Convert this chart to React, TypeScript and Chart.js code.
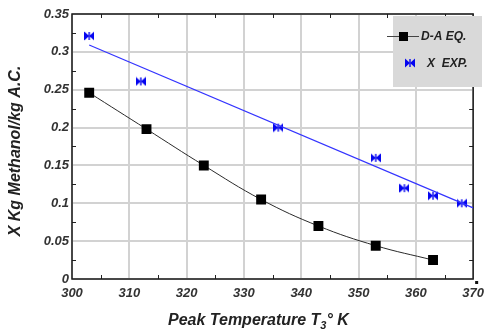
import React, { useEffect, useRef } from "react";
import { Chart, registerables } from "chart.js";

Chart.register(...registerables);

const daTemps = [303, 313, 323, 333, 343, 353, 363];
const daValues = [0.246, 0.198, 0.15, 0.105, 0.07, 0.044, 0.025];
const expTemps = [303, 312, 336, 353, 358, 363, 368];
const expValues = [0.321, 0.261, 0.2, 0.16, 0.12, 0.11, 0.1];
const fitTemps = [303, 370];
const fitValues = [0.309, 0.094];
const legendLabels = ["D-A EQ.", "X  EXP."];
const xTitle = ["Peak Temperature T", "3", "\u00B0 K"];
const yTitle = "X Kg Methanol/kg A.C.";

const FONT = "Arial, 'Liberation Sans', sans-serif";

function makeBowtie(color: string): HTMLCanvasElement {
  const c = document.createElement("canvas");
  c.width = 10;
  c.height = 10;
  const g = c.getContext("2d")!;
  g.fillStyle = color;
  g.beginPath();
  g.moveTo(0, 0.5);
  g.lineTo(5, 5);
  g.lineTo(0, 9.5);
  g.closePath();
  g.fill();
  g.beginPath();
  g.moveTo(10, 0.5);
  g.lineTo(5, 5);
  g.lineTo(10, 9.5);
  g.closePath();
  g.fill();
  g.fillRect(4.3, 1, 1.4, 8);
  return c;
}

export default function App() {
  const ref = useRef<HTMLCanvasElement | null>(null);

  useEffect(() => {
    document.body.style.margin = "0";
    const bow = makeBowtie("#0505f0");

    const decor = {
      id: "decor",
      beforeDatasetsDraw(chart: any) {
        const { ctx, chartArea: a } = chart;
        const xs = chart.scales.x;
        const ys = chart.scales.y;
        ctx.save();
        ctx.strokeStyle = "#222";
        ctx.lineWidth = 1;
        for (let v = 305; v < 370; v += 10) {
          const px = Math.round(xs.getPixelForValue(v)) + 0.5;
          ctx.beginPath();
          ctx.moveTo(px, a.bottom);
          ctx.lineTo(px, a.bottom - 4);
          ctx.moveTo(px, a.top);
          ctx.lineTo(px, a.top + 4);
          ctx.stroke();
        }
        for (let i = 0; i < 7; i++) {
          const v = 0.025 + i * 0.05;
          const py = Math.round(ys.getPixelForValue(v)) + 0.5;
          ctx.beginPath();
          ctx.moveTo(a.left, py);
          ctx.lineTo(a.left + 4, py);
          ctx.moveTo(a.right, py);
          ctx.lineTo(a.right - 4, py);
          ctx.stroke();
        }
        ctx.lineWidth = 1.5;
        ctx.strokeStyle = "#1a1a1a";
        ctx.strokeRect(a.left, a.top, a.right - a.left, a.bottom - a.top);
        ctx.fillStyle = "#111";
        ctx.fillRect(a.right + 2, a.bottom + 2, 3, 3);
        ctx.restore();
      },
      afterDraw(chart: any) {
        const { ctx } = chart;
        ctx.save();
        // legend
        ctx.fillStyle = "#d9d9d9";
        ctx.fillRect(393, 16, 89, 71);
        ctx.strokeStyle = "#444";
        ctx.lineWidth = 1;
        ctx.beginPath();
        ctx.moveTo(387, 36.5);
        ctx.lineTo(419, 36.5);
        ctx.stroke();
        ctx.fillStyle = "#000";
        ctx.fillRect(399, 32, 9, 9);
        ctx.drawImage(bow, 405, 58);
        ctx.fillStyle = "#222";
        ctx.font = `italic bold 12px ${FONT}`;
        ctx.textBaseline = "middle";
        ctx.textAlign = "left";
        ctx.fillText(legendLabels[0], 421, 37);
        ctx.fillText(legendLabels[1], 427, 63.5);
        // x title
        ctx.fillStyle = "#222";
        ctx.font = `italic bold 16px ${FONT}`;
        const w1 = ctx.measureText(xTitle[0]).width;
        ctx.font = `italic bold 11px ${FONT}`;
        const w2 = ctx.measureText(xTitle[1]).width;
        const sx = 168;
        const ty = 321;
        ctx.font = `italic bold 16px ${FONT}`;
        ctx.fillText(xTitle[0], sx, ty);
        ctx.font = `italic bold 11px ${FONT}`;
        ctx.fillText(xTitle[1], sx + w1, ty + 5);
        ctx.font = `italic bold 16px ${FONT}`;
        ctx.fillText(xTitle[2], sx + w1 + w2, ty);
        // y title
        ctx.translate(16, 151);
        ctx.rotate(-Math.PI / 2);
        ctx.textAlign = "center";
        ctx.fillText(yTitle, 0, 0);
        ctx.restore();
      },
    };

    const chart = new Chart(ref.current!, {
      type: "scatter",
      data: {
        datasets: [
          {
            label: "fit",
            data: fitTemps.map((x, i) => ({ x, y: fitValues[i] })),
            showLine: true,
            borderColor: "#3434ff",
            borderWidth: 1.2,
            pointRadius: 0,
            pointHoverRadius: 0,
          },
          {
            label: legendLabels[1],
            data: expTemps.map((x, i) => ({ x, y: expValues[i] })),
            showLine: false,
            pointStyle: bow as any,
            pointRadius: 5,
            backgroundColor: "#0505f0",
            borderColor: "#0505f0",
          },
          {
            label: legendLabels[0],
            data: daTemps.map((x, i) => ({ x, y: daValues[i] })),
            showLine: true,
            tension: 0.4,
            borderColor: "#2a2a2a",
            borderWidth: 1,
            pointStyle: "rect",
            pointRadius: 7,
            pointBorderWidth: 0,
            pointBackgroundColor: "#000",
            backgroundColor: "#000",
          },
        ],
      },
      options: {
        animation: false,
        responsive: true,
        maintainAspectRatio: false,
        layout: { padding: { top: 14, right: 11, left: 0, bottom: 0 } },
        plugins: {
          legend: { display: false },
          tooltip: { enabled: false },
        },
        scales: {
          x: {
            type: "linear",
            min: 300,
            max: 370,
            ticks: {
              stepSize: 10,
              color: "#333",
              font: { family: FONT, size: 13, style: "italic", weight: "bold" },
              padding: 7,
            },
            grid: { color: "#d2d2d2", lineWidth: 2, drawTicks: false },
            border: { display: false },
            afterFit: (s: any) => {
              s.height = 56;
            },
          },
          y: {
            type: "linear",
            min: 0,
            max: 0.35,
            ticks: {
              stepSize: 0.05,
              color: "#333",
              font: { family: FONT, size: 13, style: "italic", weight: "bold" },
              padding: 3,
              callback: (v: any) => String(Math.round(Number(v) * 100) / 100),
            },
            grid: { color: "#d2d2d2", lineWidth: 2, drawTicks: false },
            border: { display: false },
            afterFit: (s: any) => {
              s.width = 72;
            },
          },
        },
      },
      plugins: [decor],
    });
    return () => chart.destroy();
  }, []);

  return (
    <div style={{ width: 491, height: 335, position: "relative" }}>
      <canvas ref={ref} />
    </div>
  );
}
